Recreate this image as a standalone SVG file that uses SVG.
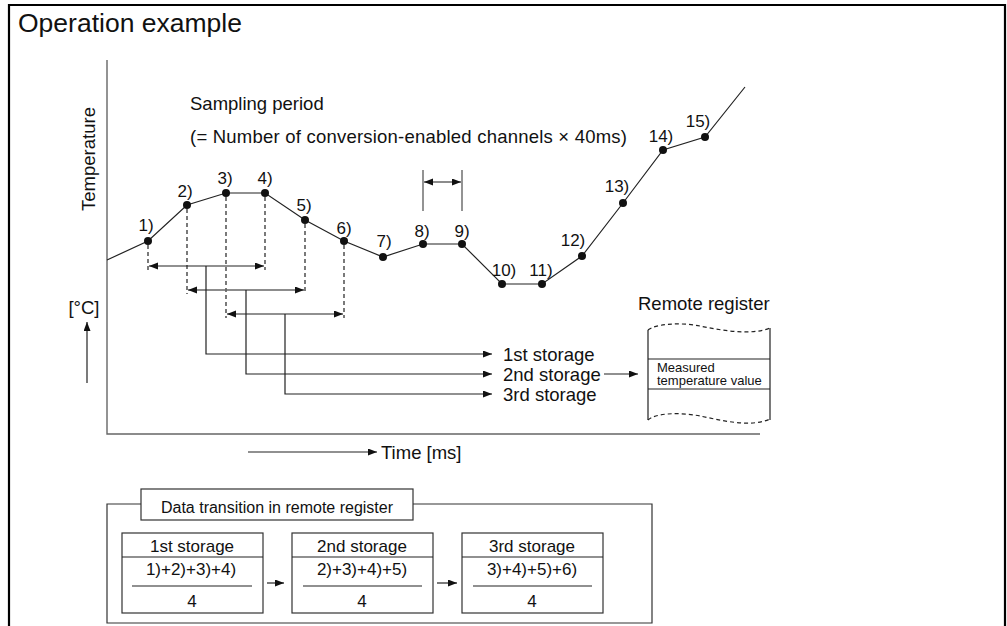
<svg xmlns="http://www.w3.org/2000/svg" width="1007" height="626" viewBox="0 0 1007 626">
<style>
text{font-family:"Liberation Sans",Arial,sans-serif;fill:#111}
.t18{font-size:18.5px}
.lbl{font-size:17px;text-anchor:middle}
.ln{fill:none;stroke:#222;stroke-width:1.2}
.gr{fill:none;stroke:#666;stroke-width:1.4}
.ds{fill:none;stroke:#222;stroke-width:1.2;stroke-dasharray:4,3}
.dot{fill:#111}
.box{fill:#fff;stroke:#333;stroke-width:1.2}
</style>
<defs>
<marker id="ah" markerUnits="userSpaceOnUse" markerWidth="10" markerHeight="8" refX="9" refY="3.5" orient="auto-start-reverse">
<path d="M0,0 L9,3.5 L0,7 z" fill="#111"/>
</marker>
</defs>
<rect x="0" y="0" width="1007" height="626" fill="#fff"/>
<path d="M9,640 V5 H1005 V640" fill="none" stroke="#000" stroke-width="2.2"/>
<text x="18" y="32" style="font-size:26.5px">Operation example</text>

<g id="axes">
<path class="gr" d="M107,60 V434 H760"/>
<text class="t18" transform="translate(95,159) rotate(-90)" text-anchor="middle">Temperature</text>
<text class="t18" x="84" y="314" text-anchor="middle">[°C]</text>
<path class="ln" d="M87,383 V322" marker-end="url(#ah)"/>
<path class="ln" d="M248,452 H377" marker-end="url(#ah)"/>
<text class="t18" x="381" y="459">Time [ms]</text>
</g>

<g id="sampling">
<text class="t18" x="190" y="110">Sampling period</text>
<text class="t18" x="190" y="143" textLength="437" lengthAdjust="spacing">(= Number of conversion-enabled channels  ×  40ms)</text>
<path class="gr" d="M423,170 V211 M462,170 V211"/>
<path class="gr" d="M424,182 H461" marker-start="url(#ah)" marker-end="url(#ah)"/>
</g>

<g id="curve">
<path class="ln" d="M107,260 L148,241 L187,205 L226,193 L265,193 L305,220 L344,241 L383,257 L423,244 L462,244 L502,284 L542,284 L582,256 L623,203 L663,150 L705,137 L745,87"/>
<circle class="dot" cx="148" cy="241" r="4"/>
<circle class="dot" cx="187" cy="205" r="4"/>
<circle class="dot" cx="226" cy="193" r="4"/>
<circle class="dot" cx="265" cy="193" r="4"/>
<circle class="dot" cx="305" cy="220" r="4"/>
<circle class="dot" cx="344" cy="241" r="4"/>
<circle class="dot" cx="383" cy="257" r="4"/>
<circle class="dot" cx="423" cy="244" r="4"/>
<circle class="dot" cx="462" cy="244" r="4"/>
<circle class="dot" cx="502" cy="284" r="4"/>
<circle class="dot" cx="542" cy="284" r="4"/>
<circle class="dot" cx="582" cy="256" r="4"/>
<circle class="dot" cx="623" cy="203" r="4"/>
<circle class="dot" cx="663" cy="150" r="4"/>
<circle class="dot" cx="705" cy="137" r="4"/>
<text class="lbl" x="146" y="231">1)</text>
<text class="lbl" x="185" y="197">2)</text>
<text class="lbl" x="225" y="184">3)</text>
<text class="lbl" x="265" y="184">4)</text>
<text class="lbl" x="304" y="211">5)</text>
<text class="lbl" x="344" y="234">6)</text>
<text class="lbl" x="384" y="247">7)</text>
<text class="lbl" x="422" y="237">8)</text>
<text class="lbl" x="462" y="237">9)</text>
<text class="lbl" x="504" y="276">10)</text>
<text class="lbl" x="541" y="276">11)</text>
<text class="lbl" x="573" y="246">12)</text>
<text class="lbl" x="617" y="192">13)</text>
<text class="lbl" x="661" y="142">14)</text>
<text class="lbl" x="698" y="127">15)</text>
</g>

<g id="brackets">
<path class="ds" d="M148,245 V270 M187,209 V294 M226,197 V318 M265,197 V270 M305,224 V294 M344,245 V318"/>
<path class="ln" d="M149,266 H264" marker-start="url(#ah)" marker-end="url(#ah)"/>
<path class="gr" d="M188,290 H304" marker-start="url(#ah)" marker-end="url(#ah)"/>
<path class="ln" d="M227,314 H343" marker-start="url(#ah)" marker-end="url(#ah)"/>
</g>

<g id="connectors">
<path class="ln" d="M206,266 V354 H492" marker-end="url(#ah)"/>
<path class="ln" d="M246,290 V374 H492" marker-end="url(#ah)"/>
<path class="ln" d="M285,314 V394 H492" marker-end="url(#ah)"/>
<path class="ln" d="M604,374 H638" marker-end="url(#ah)"/>
</g>

<g id="storage-labels">
<text class="t18" x="503" y="361">1st storage</text>
<text class="t18" x="503" y="381">2nd storage</text>
<text class="t18" x="503" y="401">3rd storage</text>
</g>

<g id="remote-register">
<text class="t18" x="638" y="310">Remote register</text>
<path class="ln" d="M648,330 V420 M770,328 V420 M648,359 H770 M648,389 H770"/>
<path class="ds" d="M648,330 C655,324 680,322 700,326 S750,336 770,328"/>
<path class="ds" d="M648,420 C655,413 680,412 700,416 S750,428 770,419"/>
<text x="657" y="372" style="font-size:13px">Measured</text>
<text x="657" y="385" style="font-size:13px">temperature value</text>
</g>

<g id="transition">
<path class="box" d="M141,504 H107 V623 H652 V504 H413" fill="none"/>
<rect class="box" x="141" y="489" width="272" height="31"/>
<text x="277" y="513" text-anchor="middle" style="font-size:16px">Data transition in remote register</text>
</g>

<g id="box1">
<rect class="box" x="122" y="533" width="141" height="80"/>
<path class="ln" d="M122,557 H263 M132,586 H252"/>
<text x="192" y="552" text-anchor="middle" style="font-size:17px">1st storage</text>
<text x="191" y="575" text-anchor="middle" style="font-size:17px">1)+2)+3)+4)</text>
<text x="192" y="607" text-anchor="middle" style="font-size:17px">4</text>
</g>
<g id="box2">
<rect class="box" x="292" y="533" width="141" height="80"/>
<path class="ln" d="M292,557 H433 M303,586 H422"/>
<text x="362" y="552" text-anchor="middle" style="font-size:17px">2nd storage</text>
<text x="362" y="575" text-anchor="middle" style="font-size:17px">2)+3)+4)+5)</text>
<text x="362" y="607" text-anchor="middle" style="font-size:17px">4</text>
</g>
<g id="box3">
<rect class="box" x="462" y="533" width="141" height="80"/>
<path class="ln" d="M462,557 H603 M473,586 H592"/>
<text x="532" y="552" text-anchor="middle" style="font-size:17px">3rd storage</text>
<text x="532" y="575" text-anchor="middle" style="font-size:17px">3)+4)+5)+6)</text>
<text x="532" y="607" text-anchor="middle" style="font-size:17px">4</text>
</g>
<g id="box-arrows">
<path class="ln" d="M267,583 H284" marker-end="url(#ah)"/>
<path class="ln" d="M437,583 H457" marker-end="url(#ah)"/>
</g>
</svg>
